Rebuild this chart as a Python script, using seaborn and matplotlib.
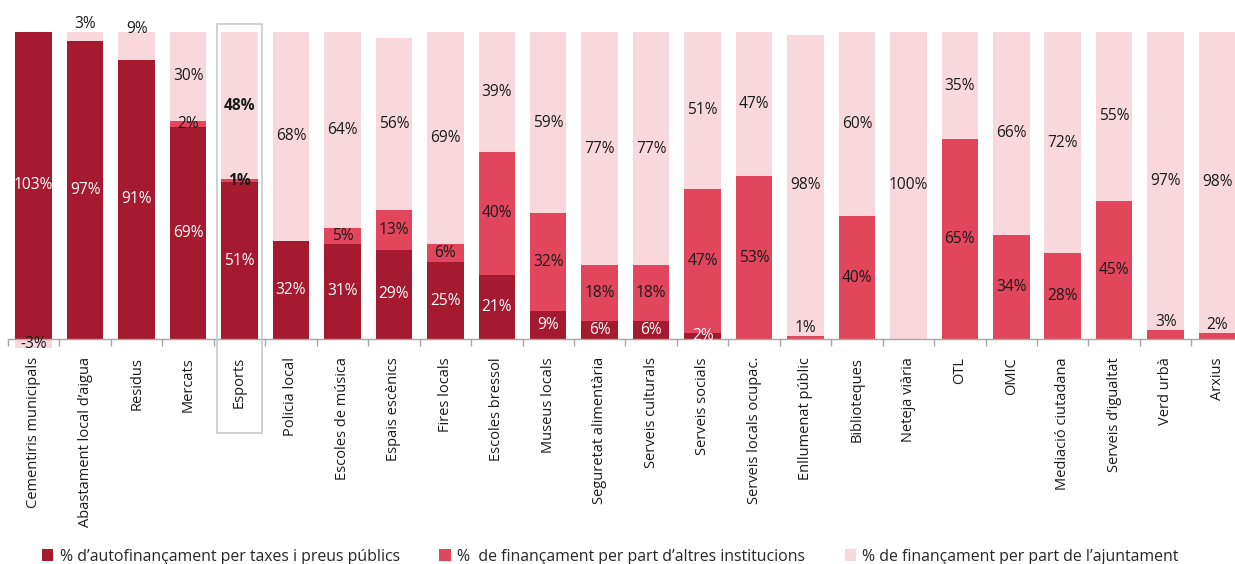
import matplotlib
matplotlib.use("Agg")
import numpy as np
import pandas as pd
import matplotlib.pyplot as plt
from matplotlib.patches import Patch, Rectangle
import seaborn as sns

# ---- data -------------------------------------------------------------
categories = [
    "Cementiris municipals", "Abastament local d’aigua", "Residus", "Mercats",
    "Esports", "Policia local", "Escoles de música", "Espais escènics",
    "Fires locals", "Escoles bressol", "Museus locals", "Seguretat alimentària",
    "Serveis culturals", "Serveis socials", "Serveis locals ocupac.",
    "Enllumenat públic", "Biblioteques", "Neteja viària", "OTL", "OMIC",
    "Mediació ciutadana", "Serveis d’igualtat", "Verd urbà", "Arxius",
]
autofinancament = [103, 97, 91, 69, 51, 32, 31, 29, 25, 21, 9, 6, 6, 2,
                   0, 0, 0, 0, 0, 0, 0, 0, 0, 0]
altres_institucions = [0, 0, 0, 2, 1, 0, 5, 13, 6, 40, 32, 18, 18, 47,
                       53, 1, 40, 0, 65, 34, 28, 45, 3, 2]
ajuntament = [-3, 3, 9, 30, 48, 68, 64, 56, 69, 39, 59, 77, 77, 51,
              47, 98, 60, 100, 35, 66, 72, 55, 97, 98]
series_labels = [
    "% d’autofinançament per taxes i preus públics",
    "%  de finançament per part d’altres institucions",
    "% de finançament per part de l’ajuntament",
]
highlight = "Esports"

# ---- style ------------------------------------------------------------
sns.set_theme(style="white")
plt.rcParams["font.family"] = ["Open Sans", "DejaVu Sans"]
FS_TICK = 10.5
FS_VAL = 11.2
FS_LEG = 11.4
c_dark, c_mid, c_light = "#A51A2F", "#E1465D", "#F8D8DD"
axis_grey = "#A6A6A6"

df = pd.DataFrame({
    "cat": categories,
    "dark": autofinancament,
    "mid": altres_institucions,
    "light": ajuntament,
})
df["top"] = df["dark"] + df["mid"] + df["light"].clip(lower=0)
df["mid_top"] = df["dark"] + df["mid"]
df["neg"] = df["light"].clip(upper=0)

fig = plt.figure(figsize=(12.35, 5.64), dpi=100)
ymin, ymax = -20, 100
ax = fig.add_axes([0.00648, 0.2901, 0.99984, 0.6532])

bar_kw = dict(x="cat", order=categories, width=0.71, saturation=1,
              errorbar=None, ax=ax, linewidth=0)
sns.barplot(data=df, y="top", color=c_light, **bar_kw)
sns.barplot(data=df, y="neg", color=c_light, **bar_kw)
sns.barplot(data=df, y="mid_top", color=c_mid, **bar_kw)
sns.barplot(data=df, y="dark", color=c_dark, **bar_kw)

ax.set_xlim(-0.5, len(categories) - 0.5)
ax.set_ylim(ymin, ymax)
ax.set_xlabel("")
ax.set_ylabel("")
ax.set_yticks([])

# ---- value labels -----------------------------------------------------
for i, row in df.iterrows():
    d, m, l = row["dark"], row["mid"], row["light"]
    segs = [("dark", d, 0, d), ("mid", m, d, d + m)]
    if l < 0:
        segs.append(("light", l, l, 0))
    else:
        segs.append(("light", l, d + m, d + m + l))
    positive = [s for s in segs if s[1] > 0]
    topmost = positive[-1][0] if positive else None
    for name, v, lo, hi in segs:
        if v == 0:
            continue
        color = "white" if name == "dark" else "#1A1A1A"
        weight = "bold" if (row["cat"] == highlight and name != "dark") else "normal"
        vis_lo, vis_hi = max(lo, ymin), min(hi, ymax)
        kw = dict(ha="center", fontsize=FS_VAL, color=color, fontweight=weight)
        if name != "dark" and 0 < v < 4 and (lo == 0 or name == topmost):
            # thin slices: label sits just above the slice
            ax.annotate(f"{v}%", (i, hi), xytext=(0, 0),
                        textcoords="offset points", va="bottom", **kw)
        elif name == topmost and v < 10 and hi >= 99.5:
            ax.annotate(f"{v}%", (i, ymax), xytext=(0, 2),
                        textcoords="offset points", va="center", **kw)
        else:
            ax.text(i, (vis_lo + vis_hi) / 2, f"{v}%", va="center", **kw)

# ---- axis -------------------------------------------------------------
for side in ("left", "top", "right"):
    ax.spines[side].set_visible(False)
ax.spines["bottom"].set_position(("data", 0))
ax.spines["bottom"].set_color(axis_grey)
ax.spines["bottom"].set_linewidth(1.0)
ax.set_xticks(np.arange(len(categories)))
ax.set_xticklabels(categories, rotation=90, fontsize=FS_TICK, color="#1A1A1A",
                   va="top", ha="center")
ax.set_xticks(np.arange(-0.5, len(categories), 1.0), minor=True)
ax.tick_params(axis="x", which="major", length=0, pad=13)
ax.tick_params(axis="x", which="minor", length=5, width=1.0,
               color=axis_grey, direction="out", bottom=True)

# frame around the highlighted service
hi_idx = categories.index(highlight)
ax.add_patch(Rectangle((hi_idx - 0.443, -30.6), 0.886, 133.1, fill=False,
                       edgecolor="#C9C9C9", linewidth=1.2, clip_on=False,
                       zorder=5))

# ---- legend -----------------------------------------------------------
handles = [Patch(facecolor=c, edgecolor="none", label=lab)
           for c, lab in zip((c_dark, c_mid, c_light), series_labels)]
fig.legend(handles=handles, loc="center left", bbox_to_anchor=(0.034, 0.013),
           ncol=3, frameon=False, fontsize=FS_LEG, handlelength=0.72,
           handleheight=0.72, handletextpad=0.4, columnspacing=2.5,
           borderaxespad=0, borderpad=0)

fig.savefig("out.png", dpi=100)
